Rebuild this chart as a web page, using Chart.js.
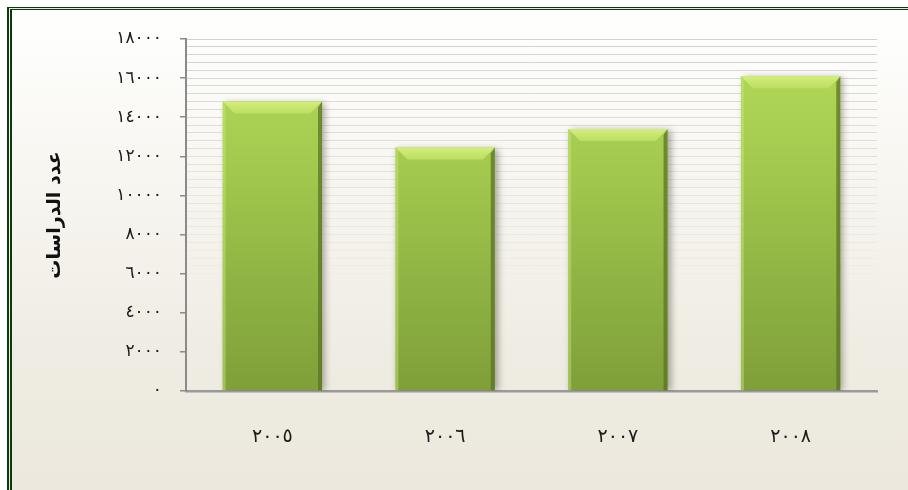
<!DOCTYPE html>
<html>
<head>
<meta charset="utf-8">
<script src="https://cdn.jsdelivr.net/npm/chart.js@4"></script>
<style>
  html, body { margin: 0; padding: 0; background: #fff; overflow: hidden; }
  #frame {
    position: absolute; left: 7px; top: 7px; width: 896px; height: 483px;
    border: none;
    border-left: 5px double #0b3a0b; border-top: 3px double #0b3a0b;
    background: linear-gradient(#ffffff 0%, #f8f7f2 30%, #efece3 70%, #ece8dd 100%);
  }
  #myChart { position: absolute; left: 0; top: 0; }
</style>
</head>
<body>
<div id="frame"></div>
<canvas id="myChart" width="908" height="490"></canvas>
<script>
  'use strict'

  const years = ['٢٠٠٥', '٢٠٠٦', '٢٠٠٧', '٢٠٠٨']
  const studies = [14800, 12450, 13400, 16100]
  const yTickLabels = ['٠', '٢٠٠٠', '٤٠٠٠', '٦٠٠٠', '٨٠٠٠', '١٠٠٠٠', '١٢٠٠٠', '١٤٠٠٠', '١٦٠٠٠', '١٨٠٠٠']
  const yTitle = 'عدد الدراسات'

  // bevel + shadow on the bars
  const bevel = {
    id: 'bevel',
    beforeDatasetsDraw (chart) {
      const c = chart.ctx
      c.save()
      c.shadowColor = 'rgba(60,60,40,0.45)'
      c.shadowBlur = 7
      c.shadowOffsetX = 3
      c.shadowOffsetY = 1
    },
    afterDatasetsDraw (chart) {
      const c = chart.ctx
      c.restore()
      chart.getDatasetMeta(0).data.forEach(bar => {
        const l = bar.x - bar.width / 2
        const r = bar.x + bar.width / 2
        const t = bar.y
        const b = bar.base
        const bv = 12
        c.save()
        // top bevel
        const g = c.createLinearGradient(0, t, 0, t + bv)
        g.addColorStop(0, '#d4ee7e')
        g.addColorStop(1, '#bddd62')
        c.fillStyle = g
        c.beginPath()
        c.moveTo(l, t); c.lineTo(r, t); c.lineTo(r - bv, t + bv); c.lineTo(l + bv, t + bv)
        c.closePath(); c.fill()
        // right edge
        c.fillStyle = 'rgba(90,115,35,0.75)'
        c.beginPath()
        c.moveTo(r, t); c.lineTo(r, b); c.lineTo(r - 4, b); c.lineTo(r - 4, t + 6)
        c.closePath(); c.fill()
        // left edge
        c.fillStyle = 'rgba(200,230,120,0.45)'
        c.beginPath()
        c.moveTo(l, t); c.lineTo(l + 3, t + 4); c.lineTo(l + 3, b); c.lineTo(l, b)
        c.closePath(); c.fill()
        c.restore()
      })
    }
  }

  const ctx = document.getElementById('myChart')
  // eslint-disable-next-line no-unused-vars
  const myChart = new Chart(ctx, {
    type: 'bar',
    data: {
      labels: years,
      datasets: [{
        data: studies,
        backgroundColor: (c) => {
          const area = c.chart.chartArea
          if (!area) return '#9cc44a'
          const g = c.chart.ctx.createLinearGradient(0, area.top, 0, area.bottom)
          g.addColorStop(0, '#b4da5a')
          g.addColorStop(0.3, '#a6cd50')
          g.addColorStop(1, '#7e9f39')
          return g
        },
        borderWidth: 0,
        barPercentage: 0.575,
        categoryPercentage: 1
      }]
    },
    options: {
      responsive: false,
      animation: false,
      layout: { padding: { left: 0, right: 31, top: 39, bottom: 39 } },
      plugins: { legend: { display: false }, tooltip: { enabled: false } },
      scales: {
        x: {
          offset: true,
          grid: { display: false, drawTicks: false },
          border: { color: '#9a9a9a', width: 2.5 },
          ticks: {
            color: '#1a1a1a',
            padding: 35,
            font: { family: 'DejaVu Sans', size: 19 }
          },
          afterFit: (s) => { s.height = 60 }
        },
        y: {
          min: 0,
          max: 18000,
          ticks: {
            stepSize: 2000,
            color: '#1a1a1a',
            padding: 18,
            font: { family: 'DejaVu Sans', size: 17 },
            callback: (v) => yTickLabels[Math.round(v / 2000)]
          },
          grid: { drawOnChartArea: false, tickLength: 6, color: '#8a8a8a', lineWidth: 1.5 },
          border: { color: '#8a8a8a', width: 2 },
          title: {
            display: true,
            text: yTitle,
            color: '#111',
            padding: { top: 44, bottom: 0 },
            font: { family: 'DejaVu Sans', size: 19, weight: 'bold' }
          },
          afterFit: (s) => { s.width = 186 }
        },
        y2: {
          position: 'left',
          min: 0,
          max: 18000,
          ticks: { display: false, stepSize: 400 },
          border: { display: false },
          grid: {
            drawTicks: false,
            lineWidth: 1,
            color: (c) => {
              const v = c.tick ? c.tick.value : 0
              const a = Math.max(0, Math.min(1, (v - 5000) / 13000))
              return 'rgba(180,180,175,' + (0.6 * a).toFixed(3) + ')'
            }
          },
          afterFit: (s) => { s.width = 0 }
        }
      }
    },
    plugins: [bevel]
  })
</script>
</body>
</html>
